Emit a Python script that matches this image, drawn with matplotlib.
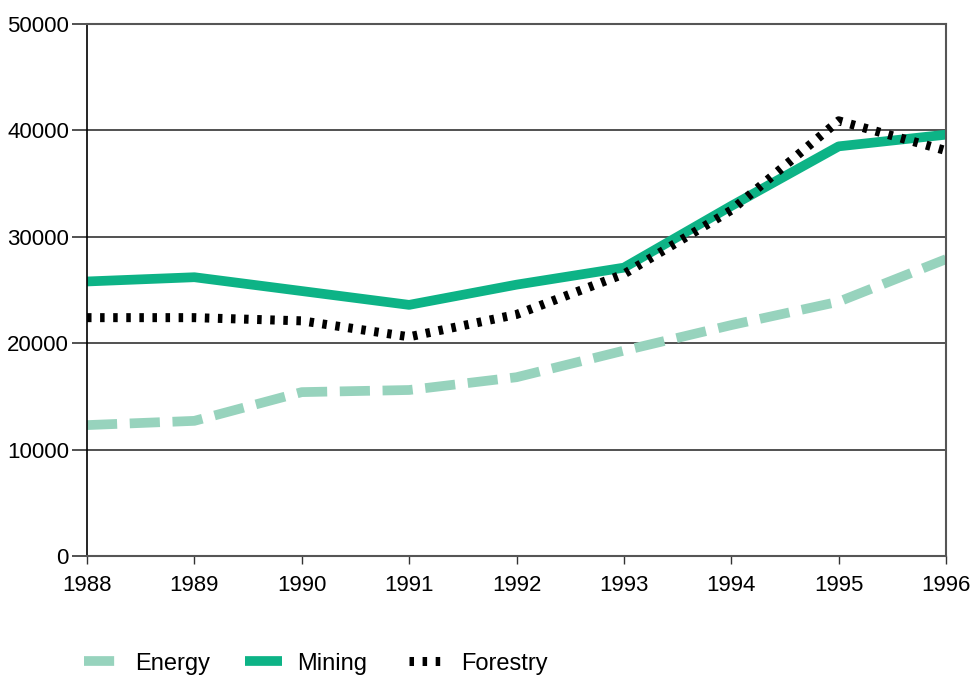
import matplotlib.pyplot as plt

years = [1988, 1989, 1990, 1991, 1992, 1993, 1994, 1995, 1996]
energy = [12300, 12700, 15400, 15600, 16800, 19300, 21700, 23900, 27900]
mining = [25800, 26200, 24900, 23600, 25500, 27100, 32900, 38500, 39600]
forestry = [22400, 22400, 22100, 20600, 22700, 26500, 32500, 40900, 38100]

plt.rcParams['font.family'] = ['Liberation Sans', 'DejaVu Sans']

fig = plt.figure(figsize=(9.71, 6.80), dpi=100)
ax = fig.add_axes([0.0896, 0.1824, 0.8847, 0.7823])

ax.plot(years, energy, color='#97d3bd', lw=7, dashes=(3.1, 1.3),
        solid_capstyle='butt', dash_capstyle='butt', label='Energy')
ax.plot(years, mining, color='#0db386', lw=7, solid_capstyle='butt',
        label='Mining')
ax.plot(years, forestry, color='black', lw=6.5, dashes=(0.5, 0.95),
        dash_capstyle='butt', label='Forestry')

ax.set_xlim(1988, 1996)
ax.set_ylim(0, 50000)
ax.set_xticks(years)
ax.set_yticks(range(0, 50001, 10000))
ax.yaxis.grid(True, color='#333333', lw=1.2)
ax.set_axisbelow(True)

for s in ['top', 'right', 'bottom']:
    ax.spines[s].set_color('#555555')
    ax.spines[s].set_linewidth(1.5)
ax.spines['left'].set_color('black')
ax.spines['left'].set_linewidth(1.2)

ax.tick_params(axis='y', length=11, width=1.2, color='#333333', labelsize=16, pad=2)
ax.tick_params(axis='x', length=6, width=1, color='#333333', labelsize=16, pad=8)

# one legend per series so each entry sits where the reference puts it
handles, labels = ax.get_legend_handles_labels()
leg_x = [0.086, 0.252, 0.421]
for h, l, x in zip(handles, labels, leg_x):
    lg = fig.legend([h], [l], loc='center left', bbox_to_anchor=(x, 0.024),
                    frameon=False, fontsize=17, handlelength=1.6,
                    handletextpad=0.6, borderpad=0, borderaxespad=0)

plt.savefig('out.png')
